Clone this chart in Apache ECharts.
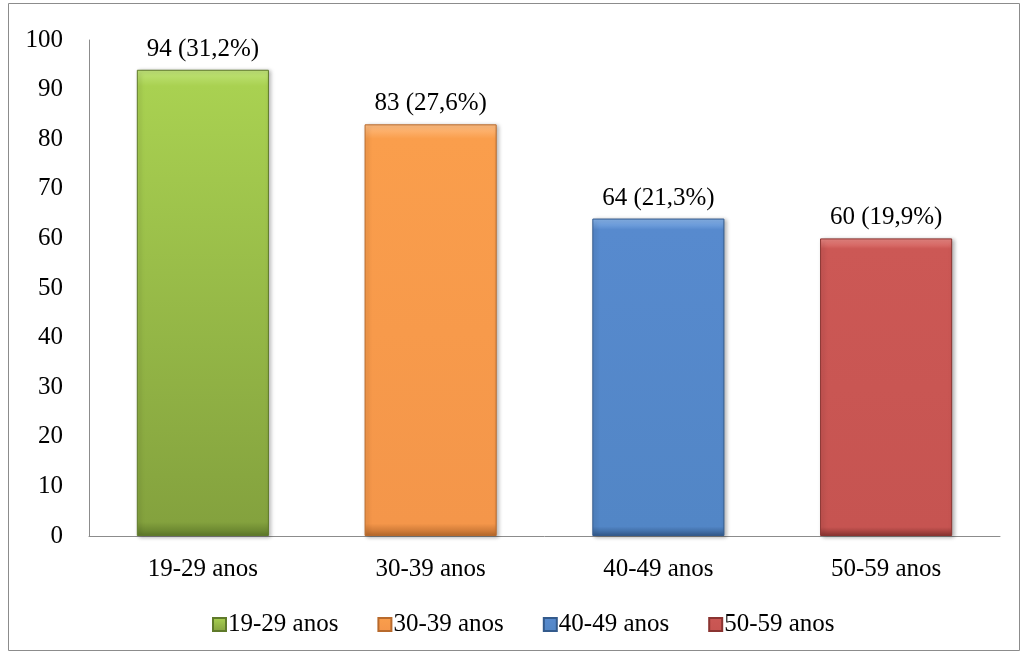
<!DOCTYPE html>
<html>
<head>
<meta charset="utf-8">
<script src="https://cdn.jsdelivr.net/npm/echarts@6/dist/echarts.min.js"></script>
<style>
  html, body { margin: 0; padding: 0; background: #fff; }
  #chart { width: 1022px; height: 654px; }
</style>
</head>
<body>
<div id="chart"></div>
<script>
var categories = ['19-29 anos', '30-39 anos', '40-49 anos', '50-59 anos'];
var values = [94, 83, 64, 60];
var percents = ['31,2%', '27,6%', '21,3%', '19,9%'];
var yTicks = [0, 100, 10];

// highlight, top, bottom, edge colours of each bar
var barColors = [
    ['#c2e57a', '#a9d151', '#84a23e', '#5f7a2a'],
    ['#ffbf85', '#fa9e4c', '#f4964a', '#b86a2c'],
    ['#8ab6ec', '#578ace', '#5286c6', '#335a8c'],
    ['#ec8a86', '#cc5855', '#c65451', '#8a3431']
];

function grad(c) {
    return new echarts.graphic.LinearGradient(0, 0, 0, 1, [
        { offset: 0, color: c[0] },
        { offset: 0.035, color: c[1] },
        { offset: 0.97, color: c[2] },
        { offset: 1, color: c[3] }
    ]);
}

var dom = document.getElementById('chart');
var myChart = echarts.init(dom);
var font = '"Liberation Serif", "Times New Roman", serif';

var series = categories.map(function (name, i) {
    var data = categories.map(function (c, j) { return j === i ? values[i] : '-'; });
    return {
        name: name,
        type: 'bar',
        stack: 'all',
        barWidth: '58%',
        data: data,
        itemStyle: {
            color: grad(barColors[i]),
            borderColor: barColors[i][3],
            borderWidth: 1,
            shadowColor: 'rgba(0,0,0,0.3)',
            shadowBlur: 4,
            shadowOffsetX: 2,
            shadowOffsetY: 1
        },
        label: {
            show: true,
            position: 'top',
            distance: 8,
            fontFamily: font,
            fontSize: 25,
            color: '#000',
            formatter: function (p) { return p.value + ' (' + percents[i] + ')'; }
        }
    };
});

var option = {
    animation: false,
    textStyle: { fontFamily: font },
    color: barColors.map(function (c) { return c[1]; }),
    graphic: [{
        type: 'rect',
        shape: { x: 8.5, y: 3.5, width: 1011, height: 647 },
        style: { fill: 'none', stroke: '#8c8c8c', lineWidth: 1 },
        silent: true
    }],
    grid: { left: 89, right: 22, top: 40, bottom: 118, containLabel: false },
    legend: {
        bottom: 12,
        left: 207,
        icon: 'rect',
        itemWidth: 13,
        itemHeight: 13,
        itemGap: 39,
        textStyle: { fontFamily: font, fontSize: 25, color: '#000', padding: [0, 0, 0, -3] },
        data: categories
    },
    xAxis: {
        type: 'category',
        data: categories,
        axisLine: { lineStyle: { color: '#8c8c8c', width: 1 } },
        axisTick: { show: false },
        axisLabel: { fontFamily: font, fontSize: 25, color: '#000', margin: 21 }
    },
    yAxis: {
        type: 'value',
        min: yTicks[0],
        max: yTicks[1],
        interval: yTicks[2],
        axisLine: { show: true, lineStyle: { color: '#8c8c8c', width: 1 } },
        axisTick: { show: false },
        splitLine: { show: false },
        axisLabel: { fontFamily: font, fontSize: 25, color: '#000', margin: 26 }
    },
    series: series
};

if (option && typeof option === 'object') {
    myChart.setOption(option, true);
}

window.addEventListener('resize', function () {
    myChart.resize();
});
</script>
</body>
</html>
